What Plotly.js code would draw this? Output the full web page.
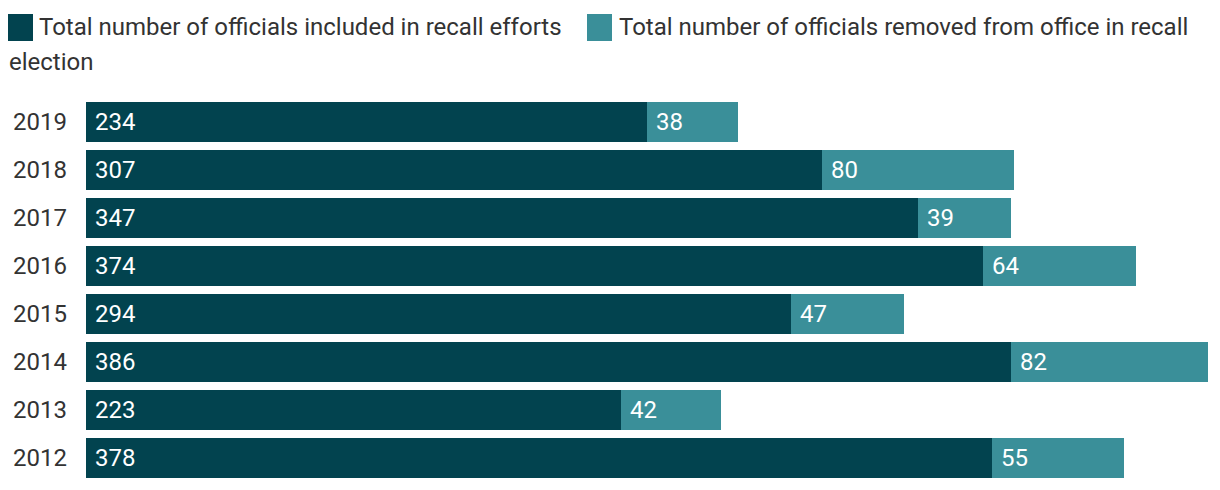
<!DOCTYPE html>
<html>
<head>
<meta charset="utf-8">
<script src="https://cdn.plot.ly/plotly-3.0.1.min.js"></script>
<style>html,body{margin:0;padding:0;background:#fff;}#chart{width:1220px;height:490px;}</style>
</head>
<body>
<div id="chart"></div>
<script>
const years = ["2019", "2018", "2017", "2016", "2015", "2014", "2013", "2012"];
const included = [234, 307, 347, 374, 294, 386, 223, 378];
const removed = [38, 80, 39, 64, 47, 82, 42, 55];
const seriesNames = ["Total number of officials included in recall efforts",
                     "Total number of officials removed from office in recall"];
const seriesNameWrap = "election";
const colors = ["#02434f", "#3a8f99"];

const FONT = "Roboto, 'Open Sans', sans-serif";
const TXT = "#333333";
const FS = 24;

const W = 1220, H = 490;
const M = {l: 86, r: 12, t: 98, b: 8};
const PW = W - M.l - M.r, PH = H - M.t - M.b;
function px(x){ return (x - M.l) / PW; }
function py(y){ return (H - M.b - y) / PH; }

const traces = [
  {type: "bar", orientation: "h", y: years, x: included, name: seriesNames[0],
   marker: {color: colors[0]}, hoverinfo: "x+name"},
  {type: "bar", orientation: "h", y: years, x: removed, name: seriesNames[1] + " " + seriesNameWrap,
   marker: {color: colors[1]}, hoverinfo: "x+name"}
];

const annotations = [];
years.forEach((yr, i) => {
  // category axis: position by category index
  annotations.push({x: 0, y: i, xref: "x", yref: "y", text: String(included[i]),
    xanchor: "left", yanchor: "middle", xshift: 7, showarrow: false,
    font: {family: FONT, size: FS, color: "#ffffff"}});
  annotations.push({x: included[i], y: i, xref: "x", yref: "y", text: String(removed[i]),
    xanchor: "left", yanchor: "middle", xshift: 7, showarrow: false,
    font: {family: FONT, size: FS, color: "#ffffff"}});
});

// legend (drawn manually to match the wrapped layout)
const shapes = [
  {type: "rect", xref: "paper", yref: "paper", x0: px(8), x1: px(33), y0: py(14), y1: py(41),
   fillcolor: colors[0], line: {width: 0}},
  {type: "rect", xref: "paper", yref: "paper", x0: px(587), x1: px(612), y0: py(14), y1: py(41),
   fillcolor: colors[1], line: {width: 0}}
];
annotations.push({xref: "paper", yref: "paper", x: px(37), y: py(27), text: seriesNames[0],
  xanchor: "left", yanchor: "middle", showarrow: false, font: {family: FONT, size: FS, color: TXT}});
annotations.push({xref: "paper", yref: "paper", x: px(617), y: py(27), text: seriesNames[1],
  xanchor: "left", yanchor: "middle", showarrow: false, font: {family: FONT, size: FS, color: TXT}});
annotations.push({xref: "paper", yref: "paper", x: px(7), y: py(62), text: seriesNameWrap,
  xanchor: "left", yanchor: "middle", showarrow: false, font: {family: FONT, size: FS, color: TXT}});

const layout = {
  width: W, height: H,
  margin: {l: M.l, r: M.r, t: M.t, b: M.b, pad: 0},
  paper_bgcolor: "#ffffff", plot_bgcolor: "#ffffff",
  barmode: "stack", bargap: 0.1667,
  showlegend: false,
  xaxis: {range: [0, 468], autorange: false, showgrid: false, zeroline: false, showticklabels: false, showline: false, fixedrange: true},
  yaxis: {type: "category", categoryorder: "array", categoryarray: years,
          range: [years.length - 0.5, -0.5], autorange: false, automargin: false,
          showgrid: false, zeroline: false, showline: false,
          ticks: "", ticklabelstandoff: 18, tickfont: {family: FONT, size: FS, color: TXT}, fixedrange: true},
  font: {family: FONT, color: TXT},
  annotations: annotations,
  shapes: shapes
};

Plotly.newPlot("chart", traces, layout, {displayModeBar: false});
</script>
</body>
</html>
